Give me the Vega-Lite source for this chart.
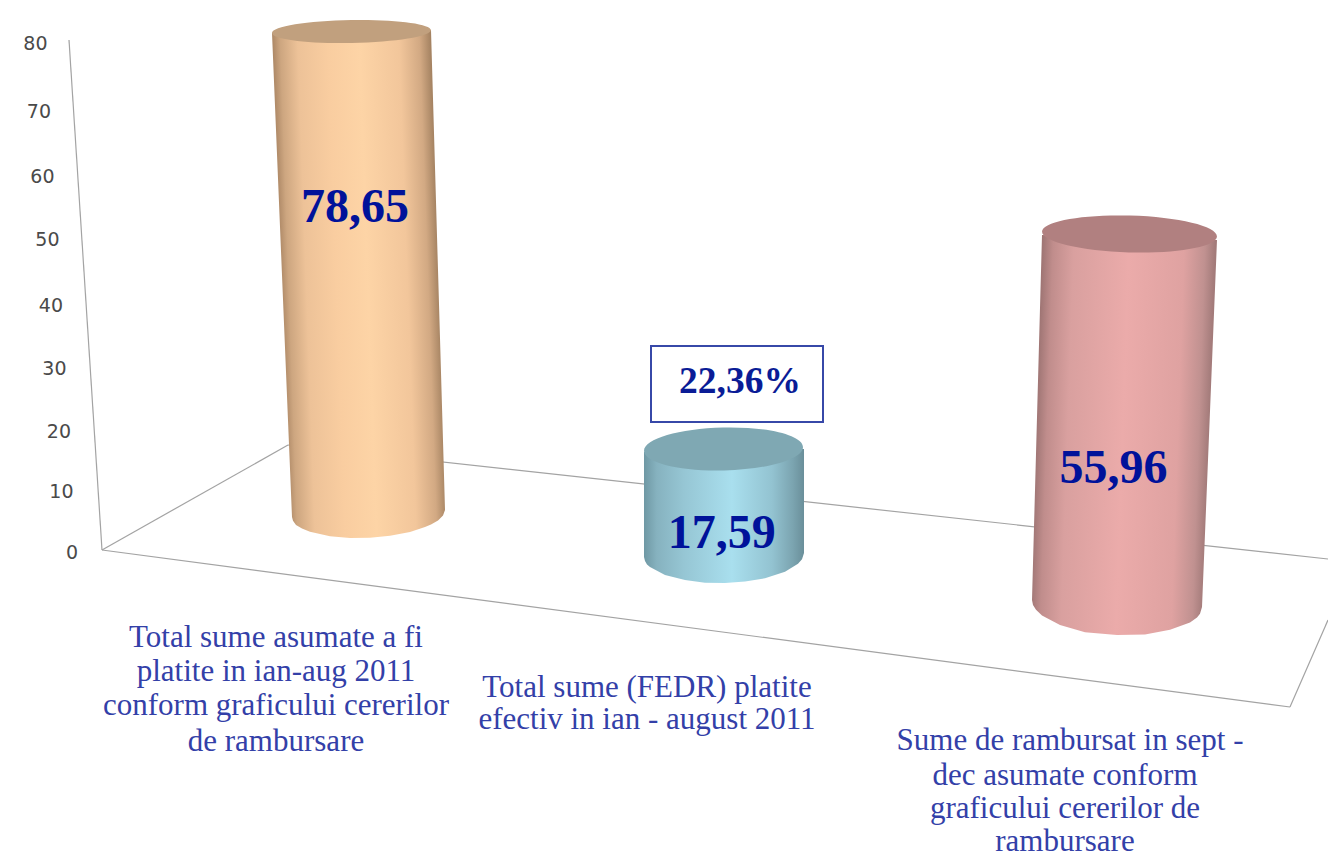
{
"$schema":"https://vega.github.io/schema/vega-lite/v6.json",
"width":1328,"height":858,"padding":0,
"autosize":{"type":"none"},
"background":"white",
"view":{"stroke":null},
"datasets":{
"edges":[
{"edge":"axis","x":69,"h":81.92},{"edge":"axis","x":102,"h":0.32},
{"edge":"floorLeft","x":102,"h":0.32},{"edge":"floorLeft","x":288,"h":17.12},
{"edge":"floorBack","x":288,"h":17.12},{"edge":"floorBack","x":1328,"h":-1.12},
{"edge":"floorFront","x":102,"h":0.32},{"edge":"floorFront","x":1290,"h":-24.8},
{"edge":"floorRight","x":1290,"h":-24.8},{"edge":"floorRight","x":1328,"h":-10.88}
],
"bodies":[
{"s":"a","x":272,"top":83.04,"bot":83.04},{"s":"a","x":292,"top":83.1,"bot":5.6},{"s":"a","x":293,"top":83.1,"bot":4.99},{"s":"a","x":296,"top":83.12,"bot":4.32},{"s":"a","x":302,"top":83.14,"bot":3.75},{"s":"a","x":310,"top":83.17,"bot":3.25},{"s":"a","x":330,"top":83.22,"bot":2.51},{"s":"a","x":350,"top":83.28,"bot":2.24},{"s":"a","x":370,"top":83.33,"bot":2.29},{"s":"a","x":390,"top":83.39,"bot":2.59},{"s":"a","x":410,"top":83.46,"bot":3.2},{"s":"a","x":425,"top":83.5,"bot":4},{"s":"a","x":431,"top":83.52,"bot":4.4},{"s":"a","x":438,"top":45.12,"bot":5.06},{"s":"a","x":443,"top":17.76,"bot":5.84},{"s":"a","x":445,"top":6.72,"bot":6.72},
{"s":"b","x":644,"top":16,"bot":-0.8},{"s":"b","x":645,"top":16,"bot":-1.44},{"s":"b","x":647,"top":16.01,"bot":-1.98},{"s":"b","x":650,"top":16.02,"bot":-2.4},{"s":"b","x":665,"top":16.06,"bot":-3.68},{"s":"b","x":685,"top":16.13,"bot":-4.48},{"s":"b","x":705,"top":16.18,"bot":-4.91},{"s":"b","x":725,"top":16.24,"bot":-4.96},{"s":"b","x":745,"top":16.3,"bot":-4.72},{"s":"b","x":765,"top":16.35,"bot":-4.21},{"s":"b","x":785,"top":16.42,"bot":-3.17},{"s":"b","x":798,"top":16.45,"bot":-1.89},{"s":"b","x":802,"top":16.47,"bot":-1.17},{"s":"b","x":804,"top":16.48,"bot":-0.16},
{"s":"c","x":1032,"top":-7.68,"bot":-7.68},{"s":"c","x":1033,"top":-1.84,"bot":-8.46},{"s":"c","x":1036,"top":15.68,"bot":-9.23},{"s":"c","x":1042,"top":50.72,"bot":-10.14},{"s":"c","x":1060,"top":50.62,"bot":-11.68},{"s":"c","x":1085,"top":50.51,"bot":-12.83},{"s":"c","x":1117,"top":50.35,"bot":-13.28},{"s":"c","x":1145,"top":50.24,"bot":-13.18},{"s":"c","x":1170,"top":50.13,"bot":-12.45},{"s":"c","x":1190,"top":50.03,"bot":-11.28},{"s":"c","x":1197,"top":50,"bot":-10.46},{"s":"c","x":1200,"top":49.99,"bot":-9.87},{"s":"c","x":1202,"top":49.98,"bot":-8.8},{"s":"c","x":1217,"top":49.92,"bot":49.92}
],
"caps":[
{"s":"a","x":351.5,"h":83.28},{"s":"b","x":723.5,"h":16.48},{"s":"c","x":1129.5,"h":50.88}
],
"values":[
{"label":"78,65","x":355,"h":55.04},{"label":"17,59","x":721.7,"h":2.88},{"label":"55,96","x":1113.5,"h":13.28}
],
"captions":[
{"label":"Total sume asumate a fi","x":276,"h":-13.76},{"label":"platite in ian-aug 2011","x":276,"h":-19.2},{"label":"conform graficului cererilor","x":276,"h":-24.64},{"label":"de rambursare","x":276,"h":-30.4},
{"label":"Total sume (FEDR) platite","x":647,"h":-21.76},{"label":"efectiv in ian - august 2011","x":647,"h":-26.88},
{"label":"Sume de rambursat in sept -","x":1070,"h":-30.24},{"label":"dec asumate conform","x":1065,"h":-35.84},{"label":"graficului cererilor de","x":1065,"h":-41.12},{"label":"rambursare","x":1065,"h":-46.4}
],
"ticks":[
{"v":0,"x":78},{"v":10,"x":73.5},{"v":20,"x":71},{"v":30,"x":66.5},{"v":40,"x":63},{"v":50,"x":59.5},{"v":60,"x":54.5},{"v":70,"x":51},{"v":80,"x":47.5}
]
},
"encoding":{
"x":{"field":"x","type":"quantitative","axis":null,"scale":{"domain":[0,1328],"nice":false,"zero":false}}
},
"resolve":{"scale":{"y":"independent"}},
"layer":[
{
"encoding":{"y":{"field":"h","type":"quantitative","axis":null,"scale":{"domain":[-48.96,88.32],"nice":false,"zero":false}}},
"layer":[
{"data":{"name":"edges"},"mark":{"type":"line","stroke":"#a3a3a3","strokeWidth":1.2},"encoding":{"detail":{"field":"edge"}}},
{"data":{"name":"bodies"},"transform":[{"filter":"datum.s==='a'"}],
 "mark":{"type":"area","line":false,"fill":{"gradient":"linear","x1":0,"y1":0,"x2":0.905,"y2":-0.093,"stops":[{"offset":0,"color":"#ad8866"},{"offset":0.05,"color":"#cda680"},{"offset":0.16,"color":"#edc298"},{"offset":0.35,"color":"#f9cda0"},{"offset":0.55,"color":"#fdd4a6"},{"offset":0.8,"color":"#f2c69b"},{"offset":0.93,"color":"#d2a983"},{"offset":1,"color":"#a58362"}]}},
 "encoding":{"y":{"field":"top","type":"quantitative"},"y2":{"field":"bot"}}},
{"data":{"name":"bodies"},"transform":[{"filter":"datum.s==='b'"}],
 "mark":{"type":"area","line":false,"fill":{"gradient":"linear","x1":0,"y1":0,"x2":1,"y2":0,"stops":[{"offset":0,"color":"#6f98a4"},{"offset":0.08,"color":"#86b2bf"},{"offset":0.25,"color":"#96c6d4"},{"offset":0.55,"color":"#a9dfee"},{"offset":0.8,"color":"#93c3d1"},{"offset":0.93,"color":"#7ba4b0"},{"offset":1,"color":"#6a8f9a"}]}},
 "encoding":{"y":{"field":"top","type":"quantitative"},"y2":{"field":"bot"}}},
{"data":{"name":"bodies"},"transform":[{"filter":"datum.s==='c'"}],
 "mark":{"type":"area","line":false,"fill":{"gradient":"linear","x1":0.06,"y1":0,"x2":0.988,"y2":0.068,"stops":[{"offset":0,"color":"#a07675"},{"offset":0.06,"color":"#c08d8c"},{"offset":0.18,"color":"#d9a09f"},{"offset":0.5,"color":"#ebabaa"},{"offset":0.82,"color":"#dfa2a1"},{"offset":0.94,"color":"#c09190"},{"offset":1,"color":"#a37b7a"}]}},
 "encoding":{"y":{"field":"top","type":"quantitative"},"y2":{"field":"bot"}}},
{"data":{"name":"caps"},"transform":[{"filter":"datum.s==='a'"}],
 "mark":{"type":"point","filled":true,"opacity":1,"fill":"#c1a07e","stroke":null,"size":25281,"angle":-1,"shape":"M-1,0C-1,-.08 -.552,-.145 0,-.145C.552,-.145 1,-.08 1,0C1,.08 .552,.145 0,.145C-.552,.145 -1,.08 -1,0Z"}},
{"data":{"name":"caps"},"transform":[{"filter":"datum.s==='b'"}],
 "mark":{"type":"point","filled":true,"opacity":1,"fill":"#7fa8b3","stroke":null,"size":25281,"angle":-1.4,"shape":"M-1,0C-1,-.149 -.552,-.27 0,-.27C.552,-.27 1,-.149 1,0C1,.149 .552,.27 0,.27C-.552,.27 -1,.149 -1,0Z"}},
{"data":{"name":"caps"},"transform":[{"filter":"datum.s==='c'"}],
 "mark":{"type":"point","filled":true,"opacity":1,"fill":"#b18080","stroke":null,"size":30625,"angle":1.6,"shape":"M-1,0C-1,-.116 -.552,-.211 0,-.211C.552,-.211 1,-.116 1,0C1,.116 .552,.211 0,.211C-.552,.211 -1,.116 -1,0Z"}},
{"data":{"values":[{"x0":651,"x1":823,"h0":32.96,"h1":20.8}]},
 "mark":{"type":"rect","fill":"white","stroke":"#3748a8","strokeWidth":2},
 "encoding":{"x":{"field":"x0","type":"quantitative"},"x2":{"field":"x1"},"y":{"field":"h0","type":"quantitative"},"y2":{"field":"h1"}}},
{"data":{"values":[{"label":"22,36%","x":740,"h":27.2}]},
 "mark":{"type":"text","font":"Liberation Serif","fontWeight":"bold","fontSize":37.5,"color":"#0a1c96","align":"center","baseline":"middle"},
 "encoding":{"text":{"field":"label"}}},
{"data":{"name":"values"},
 "mark":{"type":"text","font":"Liberation Serif","fontWeight":"bold","fontSize":48,"color":"#00129a","align":"center","baseline":"middle"},
 "encoding":{"text":{"field":"label"}}},
{"data":{"name":"captions"},
 "mark":{"type":"text","font":"Liberation Serif","fontSize":31,"color":"#3340a8","align":"center","baseline":"middle"},
 "encoding":{"text":{"field":"label"}}}
]},
{"data":{"name":"ticks"},
 "mark":{"type":"text","font":"DejaVu Sans","fontSize":19,"color":"#4a4a4a","align":"right","baseline":"middle"},
 "encoding":{
  "y":{"field":"v","type":"quantitative","axis":null,"scale":{"domain":[0,10,20,30,40,50,60,70,80],"range":[553,492,432,369,306,240,177,112,44]}},
  "text":{"field":"v","type":"quantitative"}
 }}
]
}
